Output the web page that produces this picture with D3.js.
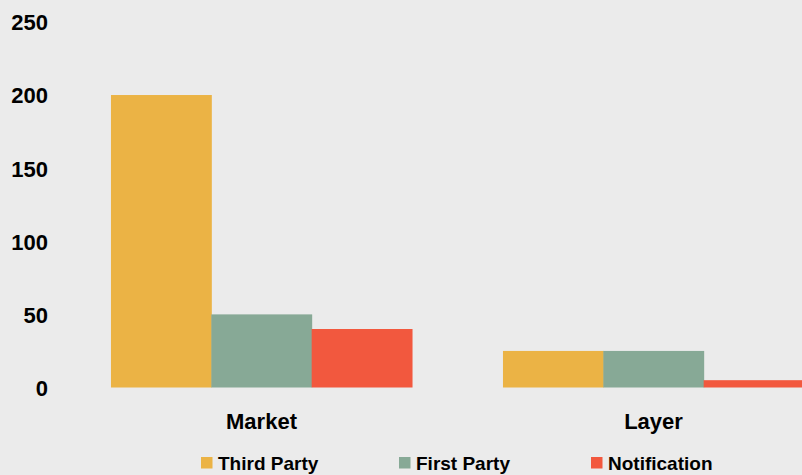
<!DOCTYPE html>
<html>
<head>
<meta charset="utf-8">
<script src="https://cdn.jsdelivr.net/npm/d3@7"></script>
<style>
  html, body { margin: 0; padding: 0; background: #ebebeb; }
  svg { display: block; }
  text { font-family: "Liberation Sans", Arial, sans-serif; font-weight: bold; fill: #000; }
</style>
</head>
<body>
<svg id="chart" width="802" height="475"></svg>
<script>
const categories = ["Market", "Layer"];
const seriesNames = ["Third Party", "First Party", "Notification"];
const thirdParty = [200, 25];
const firstParty = [50, 25];
const notification = [40, 5];
const yTicks = [0, 50, 100, 150, 200, 250];
const colors = ["#ebb345", "#87a996", "#f2583e"];

const seriesValues = [thirdParty, firstParty, notification];

const W = 802, H = 475;
const svg = d3.select("#chart");
svg.append("rect").attr("width", W).attr("height", H).attr("fill", "#ebebeb");

const y = d3.scaleLinear().domain([0, 250]).range([387.5, 21.9]);
const x0 = d3.scaleBand().domain(categories).range([65.5, 849.5]).paddingInner(0.232).paddingOuter(0.116);
const x1 = d3.scaleBand().domain(seriesNames).range([0, x0.bandwidth()]).padding(0);

// bars
const groups = svg.append("g").selectAll("g").data(categories).join("g")
  .attr("transform", d => `translate(${x0(d)},0)`);
groups.selectAll("rect")
  .data((c, ci) => seriesNames.map((s, si) => ({ s, si, v: seriesValues[si][ci] })))
  .join("rect")
  .attr("x", d => x1(d.s))
  .attr("width", x1.bandwidth() + 0.5)
  .attr("y", d => y(d.v))
  .attr("height", d => y(0) - y(d.v))
  .attr("fill", d => colors[d.si]);

// y axis
const yAxis = d3.axisLeft(y).tickValues(yTicks).tickSize(0).tickPadding(0);
const gy = svg.append("g").attr("transform", "translate(48,0)").call(yAxis);
gy.select(".domain").remove();
gy.selectAll("text").style("font-size", "22px").style("font-family", "'Liberation Sans', Arial, sans-serif")
  .style("font-weight", "bold").attr("fill", "#000").attr("dy", "0.36em");

// x axis
const xAxis = d3.axisBottom(x0).tickSize(0).tickPadding(0);
const gx = svg.append("g").attr("transform", "translate(0,413)").call(xAxis);
gx.select(".domain").remove();
gx.selectAll("text").style("font-size", "22px").style("font-family", "'Liberation Sans', Arial, sans-serif")
  .style("font-weight", "bold").attr("fill", "#000").attr("dy", "0.72em");

// legend
const legendX = [201, 399, 591];
const legend = svg.append("g").selectAll("g").data(seriesNames).join("g")
  .attr("transform", (d, i) => `translate(${legendX[i]},457)`);
legend.append("rect").attr("width", 11.5).attr("height", 11.5).attr("fill", (d, i) => colors[i]);
legend.append("text").attr("x", 17).attr("y", 12.5).style("font-size", "19px").text(d => d);
</script>
</body>
</html>
